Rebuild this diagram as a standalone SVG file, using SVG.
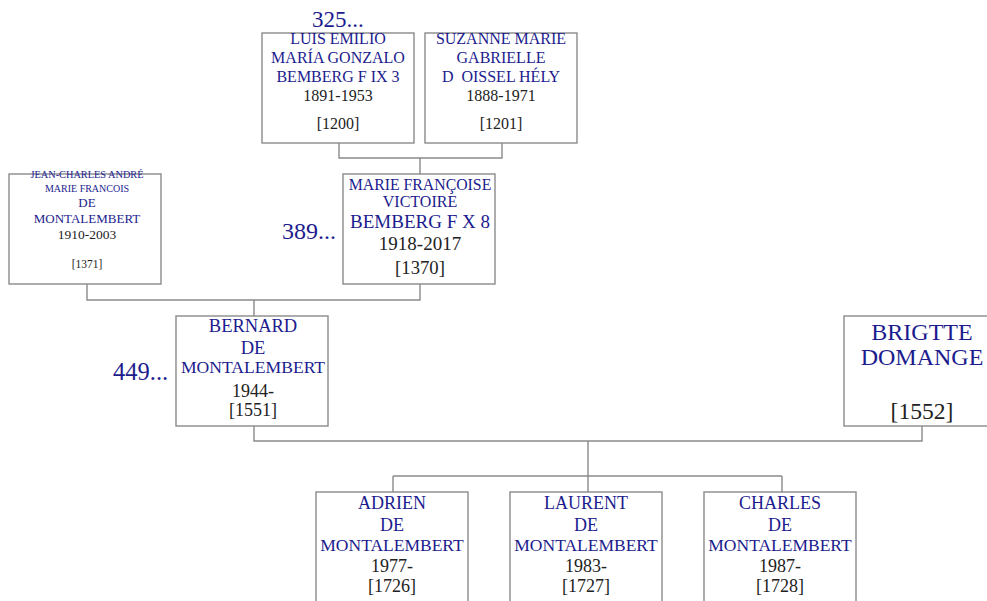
<svg xmlns="http://www.w3.org/2000/svg" width="987" height="601" viewBox="0 0 987 601">
<style>
.box{fill:#fff;stroke:#8a8a8a;stroke-width:1.4}
.ln{fill:none;stroke:#8a8a8a;stroke-width:1.4}
text{font-family:"Liberation Serif","Times New Roman",serif;text-anchor:middle}
.n{fill:#1c1c8e}
.d{fill:#222}
.num{fill:#1c1c8e;text-anchor:start}
</style>
<rect width="987" height="601" fill="#fff"/>
<g id="connectors">
<path class="ln" d="M339,143 V158 H502 V143 M420,158 V174"/>
<path class="ln" d="M87,284 V300 H420 V284 M254,300 V316"/>
<path class="ln" d="M254,426 V441 H922 V426 M588,441 V476 M393,476 H782 M393,476 V492 M588,476 V492 M782,476 V492"/>
</g>
<g id="n1200">
<rect class="box" x="262" y="33" width="152" height="110"/>
<text class="num" x="312" y="27" font-size="23">325...</text>
<text class="n" x="338" y="44" font-size="16">LUIS EMILIO</text>
<text class="n" x="338" y="63" font-size="16">MARÍA GONZALO</text>
<text class="n" x="338" y="82" font-size="16">BEMBERG F IX 3</text>
<text class="d" x="338" y="101" font-size="16">1891-1953</text>
<text class="d" x="338" y="129" font-size="16">[1200]</text>
</g>
<g id="n1201">
<rect class="box" x="425" y="33" width="152" height="110"/>
<text class="n" x="501" y="44" font-size="16">SUZANNE MARIE</text>
<text class="n" x="501" y="63" font-size="16">GABRIELLE</text>
<text class="n" x="501" y="82" font-size="16" xml:space="preserve">D  OISSEL HÉLY</text>
<text class="d" x="501" y="101" font-size="16">1888-1971</text>
<text class="d" x="501" y="129" font-size="16">[1201]</text>
</g>
<g id="n1371">
<rect class="box" x="9" y="174" width="152" height="110"/>
<text class="n" x="87" y="178" font-size="10.3">JEAN-CHARLES ANDRÉ</text>
<text class="n" x="87" y="192" font-size="10">MARIE FRANCOIS</text>
<text class="n" x="87" y="207" font-size="13">DE</text>
<text class="n" x="87" y="223" font-size="13">MONTALEMBERT</text>
<text class="d" x="87" y="239" font-size="13.5">1910-2003</text>
<text class="d" x="87" y="268" font-size="11.5">[1371]</text>
</g>
<g id="n1370">
<rect class="box" x="343" y="174" width="152" height="110"/>
<text class="num" x="282" y="239" font-size="24">389...</text>
<text class="n" x="420" y="190" font-size="15.8">MARIE FRANÇOISE</text>
<text class="n" x="420" y="207" font-size="16">VICTOIRE</text>
<text class="n" x="420" y="228" font-size="19">BEMBERG F X 8</text>
<text class="d" x="420" y="250" font-size="19">1918-2017</text>
<text class="d" x="420" y="274" font-size="18.7">[1370]</text>
</g>
<g id="n1551">
<rect class="box" x="176" y="316" width="152" height="110"/>
<text class="num" x="113" y="380" font-size="24.5">449...</text>
<text class="n" x="253" y="332" font-size="18.5">BERNARD</text>
<text class="n" x="253" y="354" font-size="18.5">DE</text>
<text class="n" x="253" y="373" font-size="17.6">MONTALEMBERT</text>
<text class="d" x="253" y="397" font-size="18">1944-</text>
<text class="d" x="253" y="416" font-size="18">[1551]</text>
</g>
<g id="n1552">
<rect class="box" x="844" y="316" width="152" height="110"/>
<text class="n" x="922" y="340" font-size="24">BRIGTTE</text>
<text class="n" x="922" y="365" font-size="24">DOMANGE</text>
<text class="d" x="922" y="419" font-size="23.6">[1552]</text>
</g>
<g id="n1726">
<rect class="box" x="316" y="492" width="152" height="112"/>
<text class="n" x="392" y="509" font-size="18">ADRIEN</text>
<text class="n" x="392" y="531" font-size="18">DE</text>
<text class="n" x="392" y="551" font-size="17.5">MONTALEMBERT</text>
<text class="d" x="392" y="572" font-size="18">1977-</text>
<text class="d" x="392" y="592" font-size="18">[1726]</text>
</g>
<g id="n1727">
<rect class="box" x="510" y="492" width="152" height="112"/>
<text class="n" x="586" y="509" font-size="18">LAURENT</text>
<text class="n" x="586" y="531" font-size="18">DE</text>
<text class="n" x="586" y="551" font-size="17.5">MONTALEMBERT</text>
<text class="d" x="586" y="572" font-size="18">1983-</text>
<text class="d" x="586" y="592" font-size="18">[1727]</text>
</g>
<g id="n1728">
<rect class="box" x="704" y="492" width="152" height="112"/>
<text class="n" x="780" y="509" font-size="18">CHARLES</text>
<text class="n" x="780" y="531" font-size="18">DE</text>
<text class="n" x="780" y="551" font-size="17.5">MONTALEMBERT</text>
<text class="d" x="780" y="572" font-size="18">1987-</text>
<text class="d" x="780" y="592" font-size="18">[1728]</text>
</g>
</svg>
